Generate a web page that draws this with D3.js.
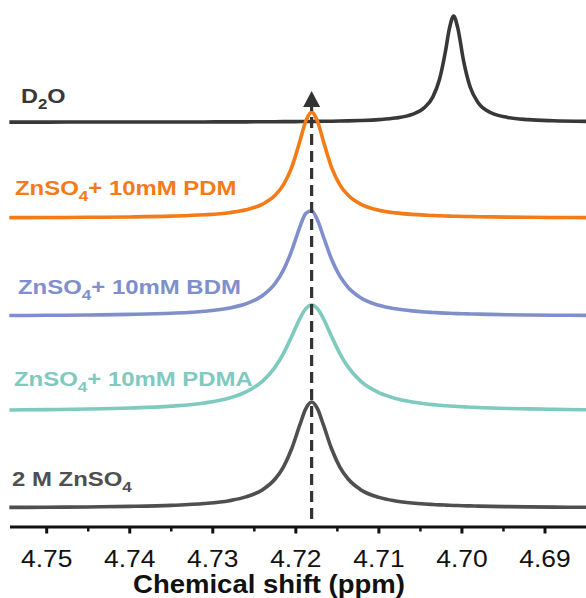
<!DOCTYPE html>
<html>
<head>
<meta charset="utf-8">
<script src="https://cdn.jsdelivr.net/npm/d3@7"></script>
<style>
  body { margin: 0; background: #fff; }
  text { font-family: 'Liberation Sans', Arial, sans-serif; }
</style>
</head>
<body>
<div id="chart"></div>
<script>
// chemical shift grid (ppm) shared by all spectra
const ppm = [4.7545, 4.750, 4.745, 4.740, 4.735, 4.731, 4.728, 4.726, 4.724, 4.7225, 4.7215, 4.7205, 4.7195, 4.7188,
    4.7181, 4.7174, 4.7167, 4.7157, 4.7147, 4.7137, 4.7122, 4.710, 4.708, 4.706, 4.7045, 4.7035, 4.7027, 4.7020,
    4.7015, 4.7010, 4.7005, 4.6998, 4.6990, 4.6980, 4.6965, 4.6945, 4.692, 4.689, 4.685];

// normalised intensities
const d2o = [0.0007, 0.0008, 0.001, 0.0013, 0.0017, 0.0022, 0.0027, 0.0031, 0.0037, 0.0042, 0.0046, 0.0051, 0.0057, 0.0062,
    0.0067, 0.0072, 0.0079, 0.009, 0.0103, 0.012, 0.0154, 0.0236, 0.0385, 0.0727, 0.1379, 0.2387, 0.4042, 0.6622,
    0.8869, 1, 0.8869, 0.5765, 0.3288, 0.1788, 0.0883, 0.0443, 0.0236, 0.0134, 0.0076];
const pdm = [0.004, 0.0052, 0.0073, 0.0109, 0.0182, 0.0308, 0.0512, 0.0781, 0.132, 0.2146, 0.314, 0.4787, 0.7297, 0.9152,
    1, 0.915, 0.73, 0.479, 0.314, 0.215, 0.132, 0.0746, 0.0493, 0.0349, 0.0278, 0.0242, 0.0218, 0.02,
    0.0188, 0.0178, 0.0168, 0.0156, 0.0143, 0.0129, 0.0112, 0.0094, 0.0077, 0.0062, 0.0048];
const bdm = [0.0059, 0.0077, 0.0109, 0.0164, 0.0273, 0.0464, 0.0769, 0.1168, 0.1944, 0.3077, 0.4336, 0.6183, 0.8448, 0.9691,
    0.9949, 0.9064, 0.7538, 0.537, 0.3769, 0.2703, 0.174, 0.1022, 0.0688, 0.0493, 0.0395, 0.0346, 0.0312, 0.0287,
    0.027, 0.0255, 0.0241, 0.0224, 0.0206, 0.0187, 0.0162, 0.0137, 0.0112, 0.009, 0.007];
const pdma = [0.0102, 0.0133, 0.0186, 0.0278, 0.0457, 0.076, 0.1225, 0.18, 0.2822, 0.4142, 0.5422, 0.7039, 0.8747, 0.9654,
    1, 0.9654, 0.8747, 0.7039, 0.5422, 0.4142, 0.2822, 0.1727, 0.1183, 0.0855, 0.0689, 0.0603, 0.0546, 0.0502,
    0.0473, 0.0447, 0.0423, 0.0393, 0.0362, 0.0328, 0.0285, 0.024, 0.0197, 0.0159, 0.0123];
const znso4 = [0.0055, 0.0071, 0.01, 0.015, 0.0249, 0.042, 0.0692, 0.1046, 0.1732, 0.2735, 0.3867, 0.5587, 0.788, 0.937,
    1, 0.937, 0.788, 0.5587, 0.3867, 0.2735, 0.1732, 0.1, 0.0667, 0.0474, 0.0379, 0.0331, 0.0298, 0.0274,
    0.0258, 0.0243, 0.023, 0.0213, 0.0196, 0.0177, 0.0154, 0.0129, 0.0106, 0.0085, 0.0066];

const majorTicks = [4.75, 4.74, 4.73, 4.72, 4.71, 4.70, 4.69];
const minorTicks = [4.745, 4.735, 4.725, 4.715, 4.705, 4.695];
const markerShift = 4.7181;

const width = 586,
    height = 598;

const svg = d3.select('#chart').append('svg').attr('width', width).attr('height', height);

const x = d3.scaleLinear().domain([4.75, 4.69]).range([46.7, 545]);
const y = d3.scaleLinear().domain([0, 1]).range([508, 402]);
const axisY = 527;

const series = [
    { name: [{ t: 'D' }, { t: '2', sub: true }, { t: 'O' }], values: d2o, off: 3.64, color: '#383838', lx: 21, ly: 103, sx: 1.12 },
    { name: [{ t: 'ZnSO' }, { t: '4', sub: true }, { t: '+ 10mM PDM' }], values: pdm, off: 2.735, color: '#f47b17', lx: 15, ly: 195, sx: 1.14 },
    { name: [{ t: 'ZnSO' }, { t: '4', sub: true }, { t: '+ 10mM BDM' }], values: bdm, off: 1.81, color: '#7f8fcc', lx: 18, ly: 294, sx: 1.14 },
    { name: [{ t: 'ZnSO' }, { t: '4', sub: true }, { t: '+ 10mM PDMA' }], values: pdma, off: 0.915, color: '#7ecabf', lx: 14, ly: 386, sx: 1.14 },
    { name: [{ t: '2 M ZnSO' }, { t: '4', sub: true }], values: znso4, off: 0, color: '#4f4f4f', lx: 12, ly: 486, sx: 1.14 },
];

const line = d3
    .line()
    .x((d) => x(d[0]))
    .y((d) => d[1])
    .curve(d3.curveMonotoneX);

series.forEach((s) => {
    const pts = ppm.map((p, i) => [p, y(s.values[i] + s.off)]);
    svg.append('path')
        .attr('d', line(pts))
        .attr('fill', 'none')
        .attr('stroke', s.color)
        .attr('stroke-width', 3.6)
        .attr('stroke-linejoin', 'round');

    const label = svg
        .append('text')
        .attr('transform', `translate(${s.lx},${s.ly}) scale(${s.sx},1)`)
        .attr('fill', s.color)
        .style('font-size', '21px')
        .style('font-weight', 'bold');
    s.name.forEach((part) => {
        const ts = label.append('tspan').text(part.t);
        if (part.sub) ts.attr('dy', 6).style('font-size', '15px');
        else if (label.selectAll('tspan').size() > 1) ts.attr('dy', -6);
    });
});

// dashed marker with arrow head
const mx = x(markerShift);
svg.append('line')
    .attr('x1', mx)
    .attr('x2', mx)
    .attr('y1', 519)
    .attr('y2', 106)
    .attr('stroke', '#333')
    .attr('stroke-width', 3.2)
    .attr('stroke-dasharray', '11,6');
svg.append('path')
    .attr('d', `M${mx},91 L${mx - 8.5},107 L${mx + 8.5},107 Z`)
    .attr('fill', '#333');

// x axis
const xAxisScale = d3.scaleLinear().domain([x.invert(10), x.invert(width)]).range([10, width]);
const axisG = svg.append('g').attr('transform', `translate(0,${axisY})`);
axisG.append('path')
    .attr('d', `M${xAxisScale.range()[0]},0 H${xAxisScale.range()[1]}`)
    .attr('stroke', '#111')
    .attr('stroke-width', 3);
axisG.selectAll('line.major')
    .data(majorTicks)
    .enter()
    .append('line')
    .attr('class', 'major')
    .attr('x1', (d) => xAxisScale(d))
    .attr('x2', (d) => xAxisScale(d))
    .attr('y1', 0)
    .attr('y2', 6.5)
    .attr('stroke', '#111')
    .attr('stroke-width', 3);
axisG.selectAll('line.minor')
    .data(minorTicks)
    .enter()
    .append('line')
    .attr('class', 'minor')
    .attr('x1', (d) => xAxisScale(d))
    .attr('x2', (d) => xAxisScale(d))
    .attr('y1', 0)
    .attr('y2', 4.5)
    .attr('stroke', '#111')
    .attr('stroke-width', 2.5);
axisG.selectAll('text.tick')
    .data(majorTicks)
    .enter()
    .append('text')
    .attr('class', 'tick')
    .attr('transform', (d) => `translate(${xAxisScale(d)},40) scale(1.1,1)`)
    .attr('text-anchor', 'middle')
    .attr('fill', '#111')
    .style('font-size', '24px')
    .text((d) => d.toFixed(2));

svg.append('text')
    .attr('transform', `translate(269,593) scale(1.1,1)`)
    .attr('text-anchor', 'middle')
    .attr('fill', '#111')
    .style('font-size', '25px')
    .style('font-weight', 'bold')
    .text('Chemical shift (ppm)');
</script>
</body>
</html>
